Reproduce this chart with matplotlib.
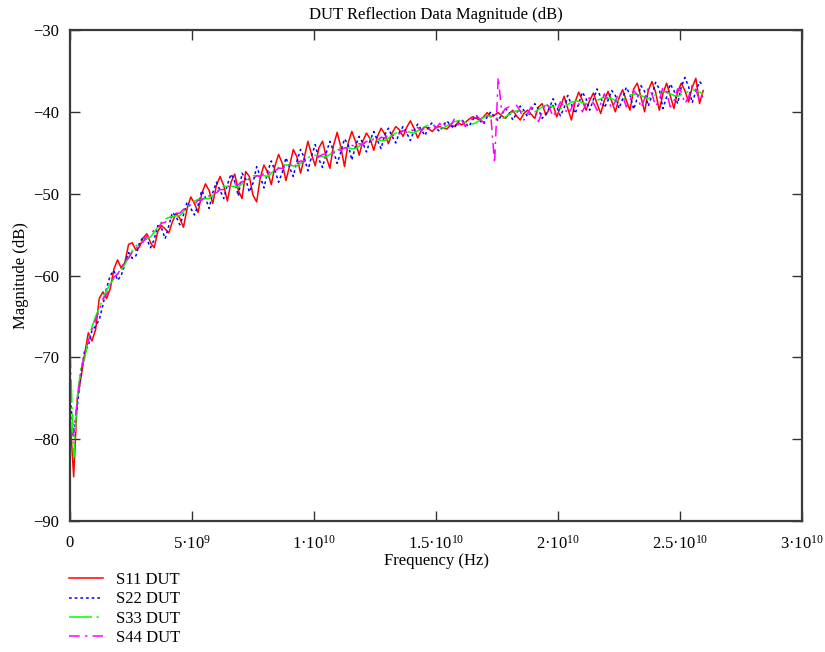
import numpy as np
import matplotlib
matplotlib.use("Agg")
import matplotlib.pyplot as plt

plt.rcParams["font.family"] = ["Liberation Serif", "DejaVu Serif"]
plt.rcParams["mathtext.fontset"] = "custom"
plt.rcParams["mathtext.rm"] = "Liberation Serif"
plt.rcParams["mathtext.default"] = "rm"

# Frequency sweep: 174 points, 0 to 25.95 GHz
freq_hz = np.linspace(0.0, 25.95e9, 174)

s11_db = [
    -77.1, -84.6, -75.0, -72.5, -69.6, -67.0, -68.0, -66.6, -62.8, -62.0,
    -62.8, -61.6, -59.2, -58.1, -59.1, -58.4, -56.2, -56.0, -56.9, -56.5,
    -55.4, -54.9, -56.0, -56.6, -54.6, -53.9, -54.3, -54.8, -53.4, -52.4,
    -53.0, -54.1, -51.8, -50.4, -51.2, -52.3, -50.0, -48.8, -49.6, -51.2,
    -49.0, -47.9, -49.0, -50.9, -48.6, -47.6, -49.6, -50.6, -47.3, -47.9,
    -50.2, -51.0, -48.0, -46.5, -47.4, -48.9, -46.6, -45.2, -46.3, -48.4,
    -46.6, -44.6, -45.5, -47.5, -45.6, -43.6, -45.2, -46.6, -44.4, -43.6,
    -45.5, -46.9, -44.1, -42.5, -44.3, -46.7, -43.8, -42.4, -43.6, -45.3,
    -43.6, -42.6, -43.3, -44.7, -43.0, -42.0, -42.7, -43.9, -42.6, -41.8,
    -42.2, -43.0, -41.9, -41.1, -42.0, -43.2, -42.3, -41.8, -42.1, -42.4,
    -41.9, -41.8, -42.0, -42.1, -41.6, -41.8, -41.3, -41.6, -41.3, -40.9,
    -40.6, -40.8, -41.0, -40.6, -40.1, -40.6, -40.4, -40.1, -40.5, -40.8,
    -40.2, -39.8, -40.5, -41.0, -40.2, -39.8, -40.3, -40.8, -39.4, -39.0,
    -40.4, -39.6, -39.2, -40.6, -39.4, -38.1, -39.6, -41.0, -38.8, -37.6,
    -38.6, -39.8, -38.6, -37.7, -39.0, -40.2, -38.6, -37.5, -38.7, -40.0,
    -38.3, -37.3, -38.6, -39.8, -37.2, -36.5, -38.2, -40.0, -37.4, -36.3,
    -37.6, -39.8, -37.8, -36.5, -38.0, -39.6, -37.6, -36.5, -37.4, -38.8,
    -37.0, -35.9, -39.0, -37.4,
]

s22_db = [
    -74.5, -79.6, -76.0, -71.8, -69.2, -68.6, -66.7, -66.2, -65.4, -63.6,
    -61.5, -60.0, -59.4, -60.6, -60.0, -58.6, -57.2, -57.9, -57.6, -56.0,
    -55.3, -55.6, -56.6, -55.6, -53.9, -54.2, -55.5, -53.9, -52.3, -52.8,
    -53.8, -52.6, -51.0, -51.8, -52.6, -51.4, -49.6, -50.5, -51.8, -49.9,
    -48.6, -49.6, -50.6, -48.9, -47.6, -48.5, -50.3, -47.5, -48.2, -49.8,
    -48.7, -46.7, -47.9, -49.3, -47.3, -46.0, -47.2, -48.6, -47.4, -45.6,
    -46.8, -47.9, -46.0, -44.6, -45.6, -47.2, -45.4, -44.0, -45.8, -46.8,
    -45.0, -43.6, -44.8, -46.3, -44.9, -43.3, -44.0, -45.9, -44.2, -43.0,
    -43.8, -44.9, -43.5, -42.4, -43.5, -44.5, -42.8, -42.0, -43.0, -43.8,
    -42.5, -41.8, -42.6, -43.5, -42.3, -41.5, -42.2, -42.9, -41.8, -41.3,
    -42.0, -42.4, -41.6, -41.1, -41.7, -42.0, -41.2, -40.9, -41.5, -41.8,
    -41.0, -40.5, -41.1, -41.5, -40.6, -40.0, -40.6, -41.1, -40.3, -39.6,
    -40.1, -41.0, -40.2, -39.3, -39.8, -40.6, -39.9, -39.0, -39.7, -40.8,
    -40.3, -39.5, -38.4, -39.4, -40.5, -39.5, -38.0, -39.1, -40.2, -39.0,
    -37.6, -38.4, -39.8, -38.5, -37.2, -38.2, -39.5, -38.6, -37.4, -38.0,
    -39.6, -38.4, -37.0, -37.9, -39.7, -38.3, -36.8, -37.5, -39.3, -38.0,
    -36.4, -37.2, -39.6, -38.2, -36.6, -37.4, -39.0, -37.0, -35.8, -36.9,
    -38.9, -37.5, -36.3, -36.8,
]

s33_db = [
    -68.5, -82.2, -74.8, -71.2, -70.2, -67.8, -66.3, -65.0, -64.0, -62.8,
    -61.8, -61.0, -60.4, -59.9, -59.4, -58.6, -57.8, -57.0, -56.4, -56.0,
    -55.8, -55.5, -55.3, -54.7, -54.1, -53.5, -53.1, -52.9, -52.8, -52.7,
    -52.7, -52.2, -51.7, -51.2, -50.9, -50.7, -50.7, -50.6, -50.6, -50.2,
    -49.8, -49.4, -49.1, -49.1, -49.1, -49.1, -49.2, -48.8, -48.5, -48.1,
    -47.8, -47.8, -47.8, -47.8, -47.9, -47.5, -47.1, -46.8, -46.5, -46.5,
    -46.5, -46.6, -46.6, -46.3, -46.0, -45.6, -45.4, -45.3, -45.4, -45.5,
    -45.5, -45.2, -44.9, -44.6, -44.3, -44.3, -44.4, -44.5, -44.5, -44.2,
    -43.9, -43.6, -43.3, -43.3, -43.4, -43.5, -43.5, -43.2, -42.9, -42.6,
    -42.3, -42.3, -42.4, -42.5, -42.6, -42.3, -42.1, -41.8, -41.6, -41.6,
    -41.8, -41.9, -42.0, -41.7, -41.5, -41.2, -41.1, -41.1, -41.3, -41.4,
    -41.5, -41.3, -41.0, -40.7, -40.5, -40.6, -40.7, -40.8, -40.9, -40.6,
    -40.3, -40.0, -39.9, -39.9, -40.0, -40.1, -40.2, -40.0, -39.7, -39.4,
    -39.2, -39.3, -39.4, -39.5, -39.6, -39.4, -39.1, -38.8, -38.7, -38.7,
    -38.9, -39.0, -39.1, -38.9, -38.6, -38.4, -38.2, -38.3, -38.4, -38.6,
    -38.7, -38.5, -38.2, -38.0, -37.8, -37.9, -38.0, -38.2, -38.4, -38.1,
    -37.9, -37.7, -37.5, -37.6, -37.8, -38.0, -38.1, -37.9, -37.7, -37.5,
    -37.3, -37.4, -37.6, -37.8,
]

s44_db = [
    -79.8, -79.2, -75.2, -71.6, -69.6, -68.0, -66.6, -65.4, -64.2, -62.9,
    -62.3, -61.3, -60.2, -59.8, -59.1, -58.2, -57.9, -57.1, -56.8, -56.1,
    -55.9, -55.2, -55.0, -54.4, -54.2, -53.6, -53.5, -53.0, -52.9, -52.4,
    -52.4, -51.9, -51.8, -51.3, -51.3, -50.8, -50.8, -50.3, -50.3, -49.9,
    -49.9, -49.5, -49.5, -49.1, -49.2, -48.8, -48.9, -48.5, -48.6, -48.2,
    -48.2, -47.8, -47.9, -47.5, -47.6, -47.2, -47.2, -46.9, -46.9, -46.6,
    -46.6, -46.3, -46.3, -46.0, -46.1, -45.7, -45.8, -45.4, -45.5, -45.2,
    -45.2, -44.9, -45.0, -44.6, -44.7, -44.4, -44.5, -44.1, -44.2, -43.9,
    -44.0, -43.6, -43.7, -43.3, -43.5, -43.1, -43.2, -42.8, -43.0, -42.6,
    -42.7, -42.3, -42.5, -42.1, -42.4, -41.9, -42.3, -41.8, -42.1, -41.6,
    -42.0, -41.4, -41.9, -41.2, -41.7, -40.9, -41.6, -41.0, -41.8, -41.3,
    -40.8, -40.4, -40.9, -41.3, -40.5, -40.6, -46.3, -35.8, -40.2, -39.6,
    -39.4, -40.0, -39.2, -39.9, -41.0, -40.2, -39.4, -39.9, -41.2, -40.0,
    -38.9, -39.5, -40.6, -39.8, -38.8, -39.4, -40.3, -39.6, -38.7, -39.0,
    -40.0, -39.0, -38.2, -38.9, -39.8, -39.0, -37.8, -38.6, -39.6, -38.7,
    -37.6, -38.0, -39.4, -38.6, -37.4, -37.9, -39.5, -38.4, -37.1, -37.8,
    -39.3, -38.6, -37.0, -37.6, -39.4, -38.7, -37.2, -37.5, -39.0, -38.2,
    -36.7, -37.3, -38.6, -38.0,
]

series_labels = ["S11 DUT", "S22 DUT", "S33 DUT", "S44 DUT"]

x_ticks = [0, 5e9, 1e10, 1.5e10, 2e10, 2.5e10, 3e10]
x_tick_labels = ["0", "5·10$^{9}$", "1·10$^{10}$", "1.5·10$^{10}$",
                 "2·10$^{10}$", "2.5·10$^{10}$", "3·10$^{10}$"]
y_ticks = [-90, -80, -70, -60, -50, -40, -30]
y_tick_labels = ["\u221290", "\u221280", "\u221270", "\u221260",
                 "\u221250", "\u221240", "\u221230"]

W, H = 825, 652
fig = plt.figure(figsize=(W / 100, H / 100), dpi=100)
ax = fig.add_axes([70 / W, 1 - 521 / H, (802 - 70) / W, (521 - 30) / H])

lw = 1.1
ax.plot(freq_hz, s11_db, color="#ff0000", lw=lw, label=series_labels[0])
ax.plot(freq_hz, s22_db, color="#0000ff", lw=lw, dashes=(1.8, 1.9),
        label=series_labels[1])
ax.plot(freq_hz, s33_db, color="#00ff00", lw=lw, dashes=(15, 3, 1.5, 3),
        label=series_labels[2])
ax.plot(freq_hz, s44_db, color="#ff00ff", lw=lw, dashes=(7, 3.5, 1.5, 3.5),
        label=series_labels[3])

ax.set_xlim(0, 3e10)
ax.set_ylim(-90, -30)
ax.set_xticks(x_ticks)
ax.set_xticklabels(x_tick_labels, fontsize=12)
ax.set_yticks(y_ticks)
ax.set_yticklabels(y_tick_labels, fontsize=12)
ax.tick_params(direction="in", length=7, width=1.0, color="#333333",
               top=True, right=True, pad=8)
ax.tick_params(axis="x", pad=10)

for sp in ax.spines.values():
    sp.set_color("#3a3a3a")
    sp.set_linewidth(1.6)

ax.set_title("DUT Reflection Data Magnitude (dB)", fontsize=12, pad=8)
ax.set_xlabel("Frequency (Hz)", fontsize=12, labelpad=0)
ax.set_ylabel("Magnitude (dB)", fontsize=12, labelpad=3)

fig.legend(loc="upper left", bbox_to_anchor=(69 / W, 1 - 572 / H),
           frameon=False, fontsize=12, borderpad=0, borderaxespad=0,
           handlelength=2.05, handletextpad=0.78, labelspacing=0.2)

fig.savefig("out.png", dpi=100)
